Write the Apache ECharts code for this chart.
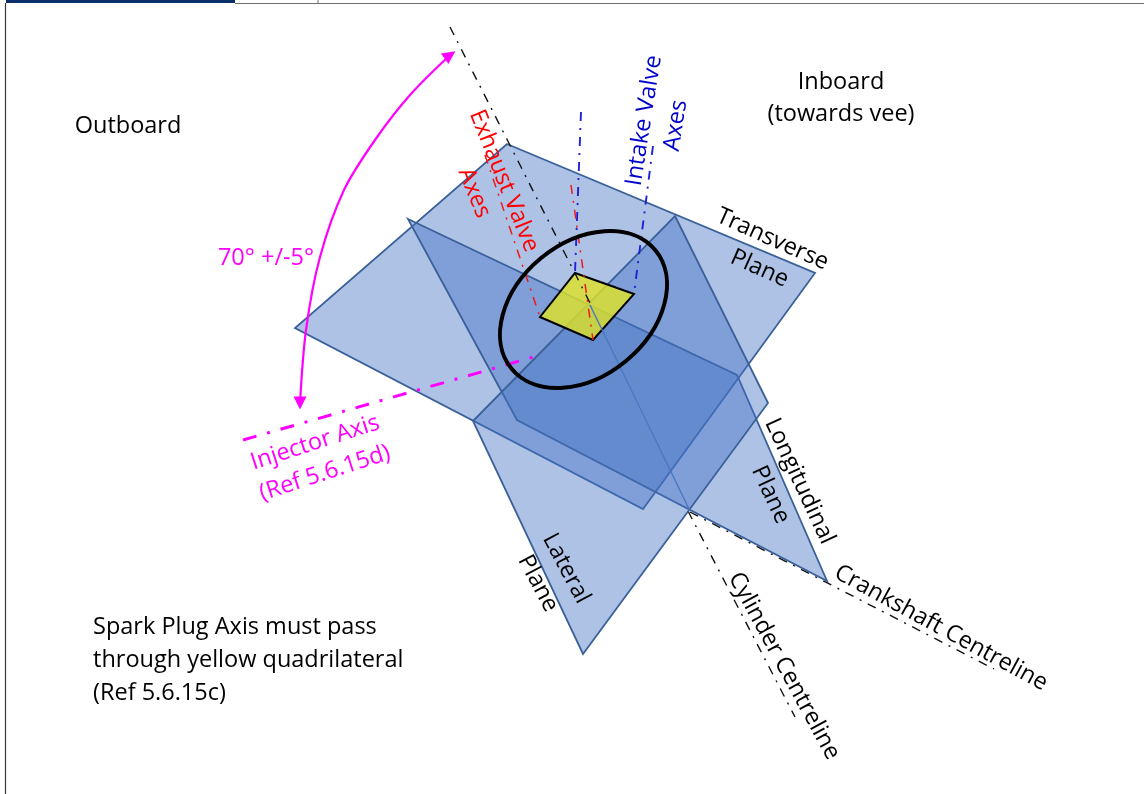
<!DOCTYPE html>
<html>
<head>
<meta charset="utf-8">
<style>html,body{margin:0;padding:0;background:#fff}#c{width:1144px;height:794px}</style>
<script src="https://cdn.jsdelivr.net/npm/echarts@6/dist/echarts.min.js"></script>
</head>
<body>
<div id="c"></div>
<script>
// Geometry, in picture pixels
var transversePlane = [[507,144],[815,273],[643,509],[295,328]];
var longitudinalPlane = [[408,219],[737,375],[827,581],[517,420]];
var lateralPlane = [[675,216],[768,403],[583,654],[473,421]];
var yellowQuad = [[575,273],[634,294],[593,340],[540,317]];
var planeIntersection = [[590,305],[690,511]];
var cylinderUpper = [[450,27],[590,303]];
var cylinderLower = [[688,511],[795,717]];
var crankshaftLine = [[690,512],[994,669]];
var intakeAxisA = [[581,112],[575,273]];
var intakeAxisB = [[653,146],[634,294]];
var exhaustAxisA = [[571,185],[593,340]];
var exhaustAxisB = [[485,155],[540,317]];
var injectorAxis = [[243,440],[537,356]];
var angleArc = [[300,403],[306,330],[320,257],[344,190],[375,140],[410,95],[450,55]];
var combustionCentre = [583.5,309.5];
var combustionRadii = [93.2,66.7];
var combustionTilt = 39.5;
var frameLeft = [[5.5,3],[5.5,794]];
var frameTop = [[235,3.5],[1144,3.5]];
var frameTab = [[318,0],[318,3]];
var frameBar = [[6,1.5],[235,1.5]];

var textLabels = [
  'Outboard',
  'Inboard\n(towards vee)',
  '70° +/-5°',
  'Injector Axis\n(Ref 5.6.15d)',
  'Exhaust Valve\nAxes',
  'Intake Valve\nAxes',
  'Transverse\nPlane',
  'Longitudinal\nPlane',
  'Lateral\nPlane',
  'Crankshaft Centreline',
  'Cylinder Centreline',
  'Spark Plug Axis must pass\nthrough yellow quadrilateral\n(Ref 5.6.15c)'
];
var textAnchors = [[128,126],[841,98],[266,258],[320,458],[489,187],[660,123],[766,254],[785,488],[552,576],[941,628],[784,666],[93,660]];
var textAngles = [0,0,0,18,-68,81,-24,-65,-62,-28.5,-61.5,0];
var textColors = ['#000','#000','#ff00ff','#ff00ff','#ff0000','#0000cc','#000','#000','#000','#000','#000','#000'];
var textAligns = ['center','center','center','center','center','center','center','center','center','center','center','left'];

function polygon(name, pts, fill, stroke, width, z) {
  return {
    type: 'custom', name: name, z: z, silent: true, clip: false,
    coordinateSystem: 'cartesian2d', data: pts, encode: {x: 0, y: 1},
    renderItem: function (params, api) {
      if (params.dataIndex !== 0) return null;
      return {
        type: 'polygon',
        shape: {points: pts.map(function (p) { return api.coord(p); })},
        style: {fill: fill, stroke: stroke, lineWidth: width, lineJoin: 'miter'}
      };
    }
  };
}
function line(name, pts, color, width, type, z, extra) {
  var s = {
    type: 'line', name: name, z: z, silent: true, symbol: 'none', data: pts,
    lineStyle: {color: color, width: width, type: type || 'solid'}, clip: false
  };
  for (var k in (extra || {})) s[k] = extra[k];
  return s;
}
var planeFill = 'rgba(68,114,196,0.43)';
var planeStroke = '#3a6099';
var dashDot = [9, 7, 2, 7];

var arcData = angleArc.map(function (p, i) {
  if (i === 0) return {value: p, symbol: 'triangle', symbolSize: [13, 13], symbolRotate: 180, itemStyle: {color: '#ff00ff'}};
  if (i === angleArc.length - 1) return {value: p, symbol: 'triangle', symbolSize: [13, 13], symbolRotate: -55, itemStyle: {color: '#ff00ff'}};
  return {value: p, symbol: 'none'};
});

var option = {
  animation: false,
  grid: {left: 0, right: 0, top: 0, bottom: 0},
  xAxis: {type: 'value', min: 0, max: 1144, show: false},
  yAxis: {type: 'value', min: 0, max: 794, inverse: true, show: false},
  series: [
    line('Frame left', frameLeft, '#3a3a3a', 1.2, 'solid', 1),
    line('Frame top', frameTop, '#6e6e6e', 1.2, 'solid', 1),
    line('Frame tab', frameTab, '#6e6e6e', 1, 'solid', 1),
    line('Frame bar', frameBar, '#0b2f6b', 3, 'solid', 1),
    polygon('Transverse Plane', transversePlane, planeFill, planeStroke, 1.8, 3),
    polygon('Longitudinal Plane', longitudinalPlane, planeFill, planeStroke, 1.8, 3),
    polygon('Lateral Plane', lateralPlane, planeFill, planeStroke, 1.8, 3),
    polygon('Yellow quadrilateral', yellowQuad, 'rgba(222,226,40,0.82)', '#000', 2, 4),
    line('Plane intersection', planeIntersection, '#4a77c0', 1.4, 'solid', 5),
    line('Cylinder Centreline upper', cylinderUpper, '#111', 1.4, dashDot, 6),
    line('Intake Valve Axis A', intakeAxisA, '#1f22d8', 1.9, dashDot, 6),
    line('Intake Valve Axis B', intakeAxisB, '#1f22d8', 1.9, dashDot, 6),
    line('Exhaust Valve Axis A', exhaustAxisA, '#f01818', 1.5, dashDot, 6),
    line('Exhaust Valve Axis B', exhaustAxisB, '#f01818', 1.5, dashDot, 6),
    line('Cylinder Centreline lower', cylinderLower, '#111', 1.4, dashDot, 2),
    line('Crankshaft Centreline', crankshaftLine, '#111', 1.4, dashDot, 2),
    line('Injector Axis', injectorAxis, '#ff00ff', 3, [14, 11, 3, 11], 8),
    line('Angle arc', arcData, '#ff00ff', 2.2, 'solid', 8, {smooth: 0.3, showSymbol: true, showAllSymbol: true}),
    {
      type: 'custom', name: 'Combustion outline', z: 9, silent: true, clip: false,
      coordinateSystem: 'cartesian2d', data: [combustionCentre], encode: {x: 0, y: 1},
      renderItem: function (params, api) {
        var c = api.coord(combustionCentre), r = api.size(combustionRadii);
        return {
          type: 'ellipse', x: c[0], y: c[1], rotation: combustionTilt * Math.PI / 180,
          shape: {cx: 0, cy: 0, rx: r[0], ry: r[1]},
          style: {fill: 'none', stroke: '#000', lineWidth: 4}
        };
      }
    },
    {
      type: 'custom', name: 'Text', z: 10, silent: true, clip: false,
      coordinateSystem: 'cartesian2d', data: textAnchors, encode: {x: 0, y: 1},
      renderItem: function (params, api) {
        var i = params.dataIndex, p = api.coord(textAnchors[i]);
        return {
          type: 'text', x: p[0], y: p[1], rotation: textAngles[i] * Math.PI / 180,
          style: {
            text: textLabels[i], fill: textColors[i], align: textAligns[i], verticalAlign: 'middle',
            font: '23.5px "Open Sans"', lineHeight: i === 11 ? 33 : 32
          }
        };
      }
    }
  ]
};
var chart = echarts.init(document.getElementById('c'), null, {renderer: 'canvas'});
chart.setOption(option);
</script>
</body>
</html>
